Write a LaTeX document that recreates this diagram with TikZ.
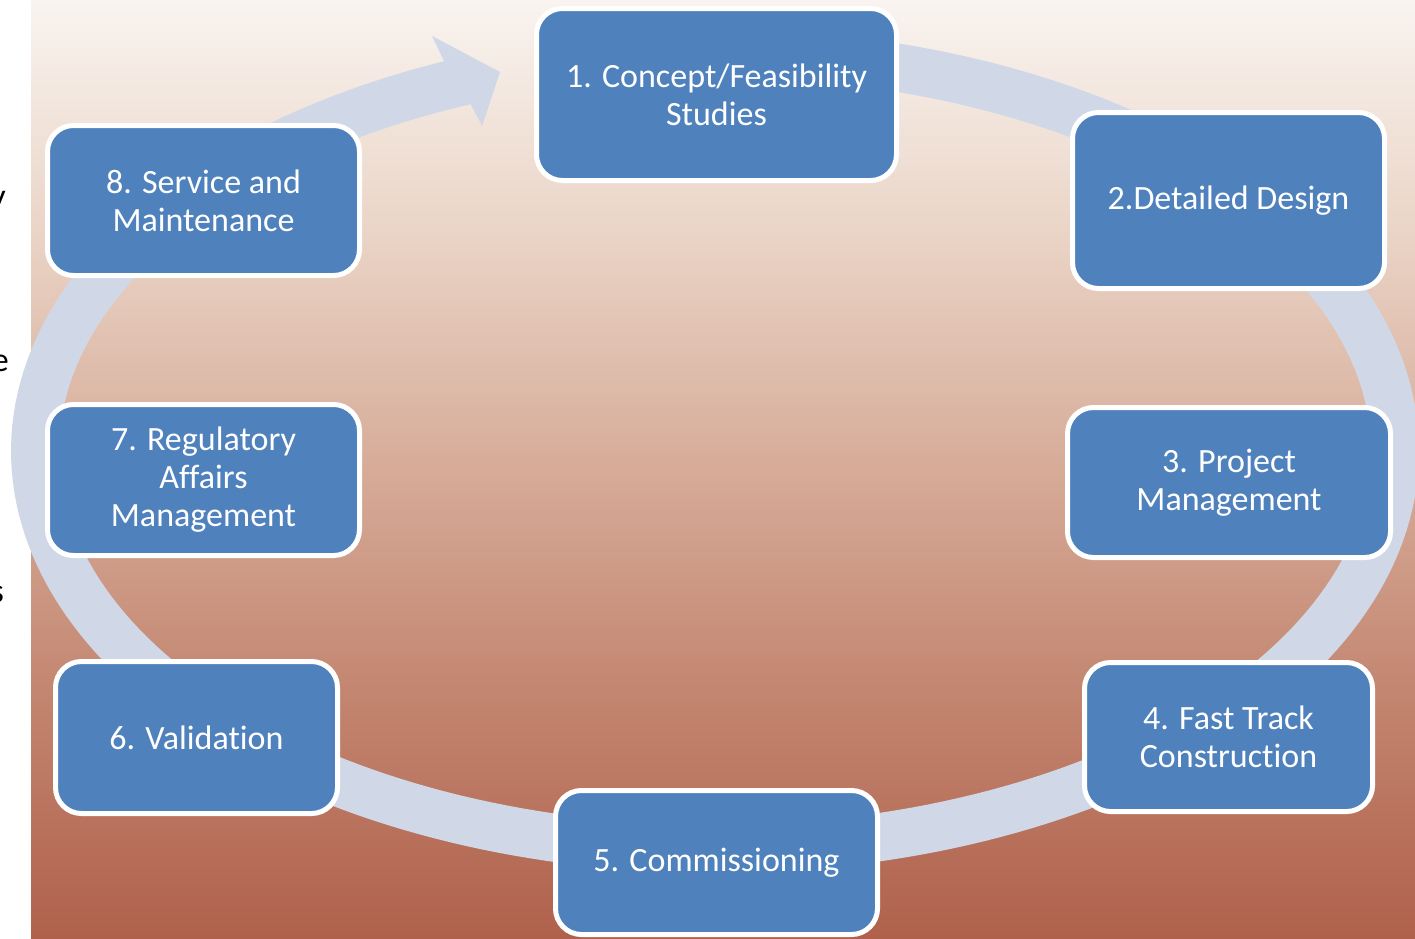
\documentclass[tikz,border=0pt]{standalone}
\usepackage{fontspec}
\setmainfont{Carlito}[Ligatures=NoCommon]
\definecolor{boxblue}{HTML}{4F81BD}
\definecolor{bandcol}{HTML}{D0D8E8}
\definecolor{bgtop}{RGB}{249,244,240}
\definecolor{bgq1}{RGB}{234,212,198}
\definecolor{bgmid}{RGB}{214,171,152}
\definecolor{bgq3}{RGB}{194,132,110}
\definecolor{bgbot}{RGB}{176,97,76}
\pgfdeclareverticalshading{bgshade}{100bp}{color(0bp)=(bgbot); color(25bp)=(bgbot); color(37.5bp)=(bgq3); color(50bp)=(bgmid); color(62.5bp)=(bgq1); color(75bp)=(bgtop); color(100bp)=(bgtop)}
\tikzset{
  stage/.style={draw=white, line width=5pt, fill=boxblue, rounded corners=26pt,
    text=white, align=center, inner sep=0pt,
    font=\fontsize{34}{38}\selectfont},
  band/.style={draw=bandcol, line width=48pt, line cap=butt},
  stray/.style={anchor=base east, inner sep=0pt, text=black, font=\fontsize{34}{38}\selectfont}
}
\begin{document}
\begin{tikzpicture}[x=1pt,y=-1pt]
\useasboundingbox (0,0) rectangle (1415,938);
\fill[white] (0,0) rectangle (1415,938);
\fill[shading=bgshade] (31,0) rectangle (1415,938);
% stray cut-off letters at the left edge
\node[stray] (ly) at (6,207) {y};
\node[stray] (le) at (9,371) {e};
\node[stray] (ls) at (4,602) {s};
% circular band
\draw[band] plot[domain=-248.4:90, samples=240] ({715+680*cos(\x)},{451-398*sin(\x)});
\fill[bandcol] (432,36) -- (500,72) -- (482,126) -- (470,103) -- (443,59) -- cycle;
% stages
\node[stage, minimum width=360pt, minimum height=172pt] (s1) at (716.5,94.5) {1. Concept/Feasibility\\Studies};
\node[stage, minimum width=312pt, minimum height=176pt] (s2) at (1228.5,200.5) {2.Detailed Design};
\node[stage, minimum width=323pt, minimum height=150pt] (s3) at (1229,482.5) {3. Project\\Management};
\node[stage, minimum width=288pt, minimum height=149pt] (s4) at (1228.5,737) {4. Fast Track\\Construction};
\node[stage, minimum width=322pt, minimum height=144pt] (s5) at (716.5,862.5) {5. Commissioning};
\node[stage, minimum width=282pt, minimum height=152pt] (s6) at (196.5,737.5) {6. Validation};
\node[stage, minimum width=312pt, minimum height=151pt] (s7) at (203.5,480) {7. Regulatory\\Affairs\\Management};
\node[stage, minimum width=312pt, minimum height=150pt] (s8) at (203.5,200.5) {8. Service and\\Maintenance};
\end{tikzpicture}
\end{document}
